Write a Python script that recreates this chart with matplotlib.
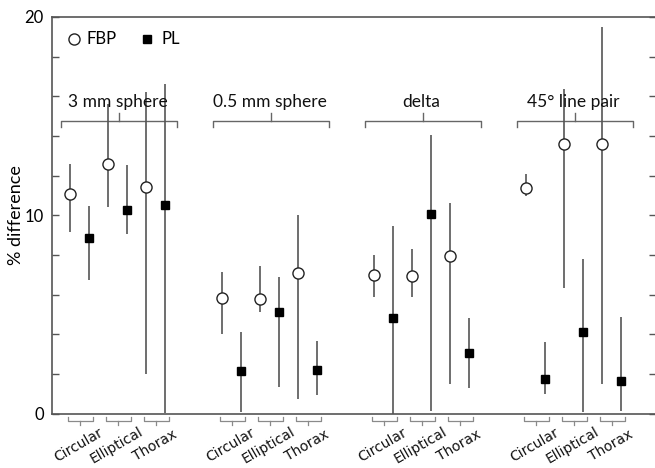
import matplotlib
matplotlib.use("Agg")
import matplotlib.pyplot as plt
import numpy as np

plt.rcParams['font.family'] = ['Lato', 'DejaVu Sans']

groups = ["3 mm sphere", "0.5 mm sphere", "delta", "45\u00b0 line pair"]
phantoms = ["Circular", "Elliptical", "Thorax"]

# values per group, per phantom (Circular, Elliptical, Thorax)
fbp_val = [[11.06, 12.61, 11.43], [5.84, 5.79, 7.09], [6.99, 6.92, 7.93], [11.38, 13.62, 13.62]]
fbp_lo  = [[9.14, 10.43, 2.0],   [4.01, 5.14, 0.73], [5.86, 5.86, 1.48], [10.96, 6.33, 1.48]]
fbp_hi  = [[12.58, 15.6, 16.2],  [7.14, 7.46, 10.03], [7.98, 8.3, 10.64], [12.06, 16.35, 19.5]]

pl_val = [[8.87, 10.29, 10.5], [2.14, 5.14, 2.21], [4.82, 10.09, 3.05], [1.74, 4.11, 1.67]]
pl_lo  = [[6.72, 9.04, 0.05],  [0.1, 1.33, 0.93],  [0.0, 0.15, 1.31],  [0.99, 0.1, 0.15]]
pl_hi  = [[10.45, 12.53, 16.6], [4.13, 6.87, 3.67], [9.48, 14.06, 4.85], [3.59, 7.8, 4.9]]

W, H = 655, 468
fig = plt.figure(figsize=(W / 100, H / 100), dpi=100)
ax = fig.add_axes([52 / W, (H - 413.7) / H, (656 - 52) / W, (413.7 - 17) / H])

ecol = '#555555'
for g in range(len(groups)):
    start = 8 * g
    for k in range(len(phantoms)):
        xf = start + 2 * k
        xp = xf + 1
        v, lo, hi = fbp_val[g][k], fbp_lo[g][k], fbp_hi[g][k]
        ax.errorbar([xf], [v], yerr=[[v - lo], [hi - v]], fmt='o', mfc='white', mec='#222222',
                    mew=1.0, ms=8, ecolor=ecol, elinewidth=1.2, capsize=0, zorder=3)
        v, lo, hi = pl_val[g][k], pl_lo[g][k], pl_hi[g][k]
        ax.errorbar([xp], [v], yerr=[[v - lo], [hi - v]], fmt='s', mfc='black', mec='black',
                    ms=5.8, ecolor=ecol, elinewidth=1.2, capsize=0, zorder=3)
        # bottom small bracket
        bc = '#8a8a8a'
        x0, x1 = xf - 0.1, xf + 1.2
        xm = (x0 + x1) / 2
        ax.plot([x0, x0, x1, x1], [-0.15, -0.35, -0.35, -0.15], color=bc, lw=0.9, clip_on=False)
        ax.plot([xm, xm], [-0.35, -0.57], color=bc, lw=0.9, clip_on=False)
        ax.text(xm - 0.1, -1.6, phantoms[k], rotation=30, ha='center', va='center',
                fontsize=10, family='DejaVu Sans', color='#111111', clip_on=False)
    # top bracket
    tc = '#666666'
    b0, b1 = start - 0.45, start + 5.65
    bm = start + 2.6
    ax.plot([b0, b0, b1, b1], [14.43, 14.78, 14.78, 14.43], color=tc, lw=1.0)
    ax.plot([bm, bm], [14.78, 15.15], color=tc, lw=1.0)
    ax.text(bm - 0.1, 15.72, groups[g], ha='center', va='center', fontsize=12.5, color='#111111')

# legend (drawn manually)
ax.plot([0.21], [18.87], 'o', mfc='white', mec='#222222', ms=8, mew=1.0)
ax.text(0.85, 18.87, "FBP", ha='left', va='center', fontsize=12)
ax.plot([4.05], [18.87], 's', mfc='black', mec='black', ms=5.8)
ax.text(4.8, 18.87, "PL", ha='left', va='center', fontsize=12)

ax.set_xlim(-0.947, 30.84)
ax.set_ylim(0, 20)
ax.set_xticks([])
ax.set_yticks(np.arange(0, 21, 2))
ax.set_yticklabels(['0', '', '', '', '', '10', '', '', '', '', '20'], fontsize=12)
ax.tick_params(axis='y', direction='in', length=5, width=1.0, color='#555555',
               right=True, labelright=False, pad=6)
ax.set_ylabel("% difference", fontsize=13, labelpad=0)

for s in ['left', 'bottom', 'top']:
    ax.spines[s].set_color('#555555')
    ax.spines[s].set_linewidth(1.2)
ax.spines['right'].set_visible(False)

fig.savefig("out.png", dpi=100)
